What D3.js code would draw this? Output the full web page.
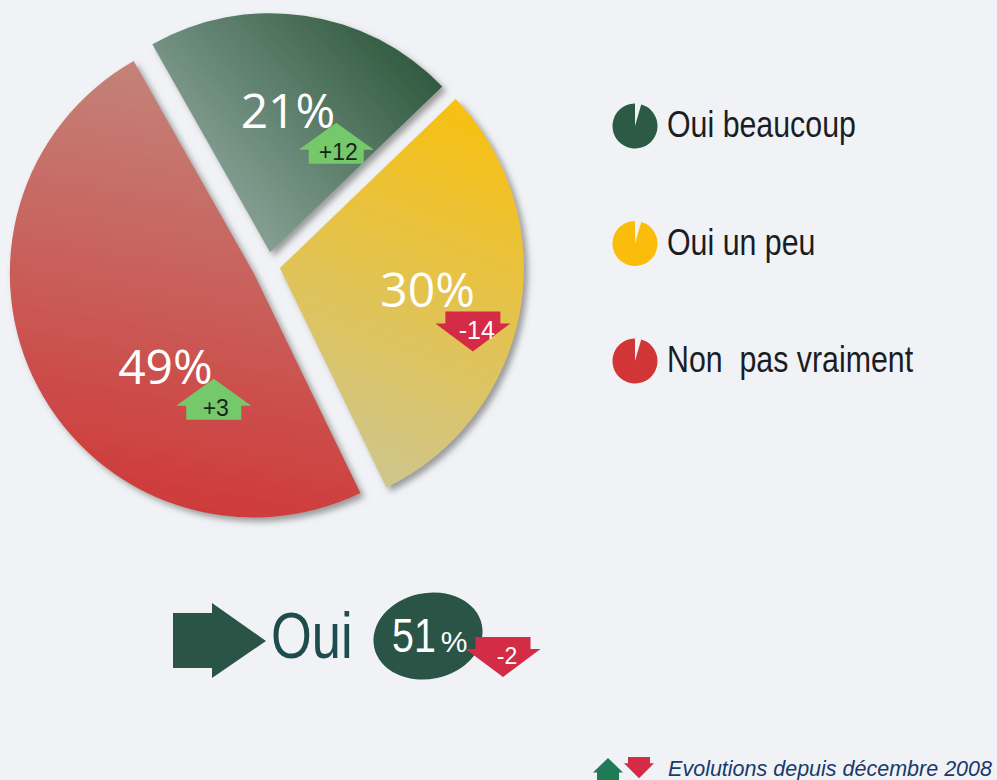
<!DOCTYPE html>
<html>
<head>
<meta charset="utf-8">
<script src="https://cdn.jsdelivr.net/npm/d3@7"></script>
<style>
  body { margin: 0; background: #f0f2f5; }
  svg { display: block; }
</style>
</head>
<body>
<div id="container"></div>
<script>
// Data
const categories = ["Oui beaucoup", "Oui un peu", "Non  pas vraiment"];
const values = [21, 30, 49];
const evolutions = [12, -14, 3];
const totalLabel = "Oui";
const totalValue = 51;
const totalEvolution = -2;
const footnote = "Evolutions depuis décembre 2008";

// Layout / style
const width = 997, height = 780;
const colors = ["#2c5a45", "#fbbd0b", "#d23535"];
const gradStops = [["#88a296", "#30593f"], ["#cec68f", "#f7c012"], ["#c2877d", "#cf3b3b"]];
const gradVec = [[[-20, -10], [170, -175]], [[40, 200], [190, -160]], [[-10, -220], [-90, 230]]];
const explode = [14, 12, 16];
const radii = [239, 244, 244];
const labelNudge = [[-3, 2], [5, -4], [40, 26]];
const upGreen = "#76c96b", downRed = "#d42b47";

// check for a narrow font, otherwise squeeze Liberation Sans
function hasFont(name) {
  const c = document.createElement('canvas').getContext('2d');
  c.font = '40px monospace';
  const a = c.measureText('Oui beaucoup').width;
  c.font = `40px "${name}", monospace`;
  return c.measureText('Oui beaucoup').width !== a;
}
const narrowOk = hasFont('Liberation Sans Narrow');
function narrowText(parent, x, y, txt, size) {
  const g = parent.append('g').attr('transform', `translate(${x},${y})`);
  const t = g.append('text').text(txt)
    .attr('font-size', size)
    .style('white-space', 'pre');
  if (narrowOk) t.attr('font-family', '"Liberation Sans Narrow"');
  else t.attr('font-family', '"Liberation Sans", Arial').attr('transform', 'scale(0.82,1)');
  return t;
}
const sign = v => (v > 0 ? '+' : '-') + Math.abs(v);

const svg = d3.select('#container').append('svg')
  .attr('width', width)
  .attr('height', height)
  .style('background', '#f0f2f5');

const defs = svg.append('defs');
const shadow = defs.append('filter').attr('id', 'shadow')
  .attr('x', '-10%').attr('y', '-10%').attr('width', '125%').attr('height', '125%');
shadow.append('feDropShadow')
  .attr('dx', 4).attr('dy', 4).attr('stdDeviation', 3)
  .attr('flood-color', '#6a6a6a').attr('flood-opacity', 0.65);

gradStops.forEach((s, i) => {
  const lg = defs.append('linearGradient').attr('id', 'grad' + i)
    .attr('gradientUnits', 'userSpaceOnUse')
    .attr('x1', gradVec[i][0][0]).attr('y1', gradVec[i][0][1])
    .attr('x2', gradVec[i][1][0]).attr('y2', gradVec[i][1][1]);
  lg.append('stop').attr('offset', 0).attr('stop-color', s[0]);
  lg.append('stop').attr('offset', 1).attr('stop-color', s[1]);
});

// arrow shapes (up: apex at 0; down: top edge at 0)
function arrowPath(up) {
  const hw = 37.5, rw = 27.5;
  if (up) return `M0,0L${hw},27L${rw},27L${rw},41L${-rw},41L${-rw},27L${-hw},27Z`;
  return `M${-rw},0L${rw},0L${rw},12L${hw},12L0,40L${-hw},12L${-rw},12Z`;
}
function drawArrow(parent, x, y, v, scale) {
  const up = v > 0;
  const g = parent.append('g').attr('transform', `translate(${x},${y})`);
  g.append('path').attr('d', arrowPath(up))
    .attr('fill', up ? upGreen : downRed)
    .attr('transform', scale ? `scale(${scale[0]},${scale[1]})` : null);
  return g;
}
function arrowLabel(g, v, size) {
  const up = v > 0;
  g.append('text')
    .attr('x', up ? 2 : 4)
    .attr('y', up ? 37 : 27)
    .attr('text-anchor', 'middle')
    .attr('font-family', '"Liberation Sans", Arial')
    .attr('font-size', size)
    .attr('fill', up ? '#16251b' : '#fff')
    .text(sign(v));
}

// Pie
const cx = 268, cy = 266;
const a0 = -29.5 * Math.PI / 180;
const pie = d3.pie().sort(null).startAngle(a0).endAngle(a0 + 2 * Math.PI);
const arc = d3.arc().innerRadius(0).outerRadius(d => radii[d.index]);
const labelArc = d3.arc().innerRadius(145).outerRadius(145);
const arcs = pie(values);

const slices = svg.selectAll('g.slice')
  .data(arcs)
  .enter().append('g')
  .attr('class', 'slice')
  .attr('transform', (d, i) => {
    const m = (d.startAngle + d.endAngle) / 2;
    return `translate(${cx + explode[i] * Math.sin(m)},${cy - explode[i] * Math.cos(m)})`;
  });

slices.append('path')
  .attr('d', arc)
  .attr('fill', (d, i) => `url(#grad${i})`)
  .attr('filter', 'url(#shadow)');

slices.each(function (d, i) {
  const g = d3.select(this);
  const c = labelArc.centroid(d);
  const lx = c[0] + labelNudge[i][0], ly = c[1] + labelNudge[i][1] + 17;
  const t = g.append('text')
    .attr('x', lx).attr('y', ly)
    .attr('text-anchor', 'middle')
    .attr('font-family', '"Open Sans", sans-serif')
    .attr('font-size', 48)
    .attr('fill', '#fff')
    .text(d.data + '%');
  const right = lx + t.node().getComputedTextLength() / 2;
  const v = evolutions[i];
  const ag = v > 0 ? drawArrow(g, right + 1, ly - 5, v) : drawArrow(g, right - 2, ly + 5, v);
  arrowLabel(ag, v, v > 0 ? 23 : 25);
});

// Legend
const legend = svg.append('g').attr('transform', 'translate(635,126)');
const icon = d3.arc().innerRadius(0).outerRadius(22.5).startAngle(0.28).endAngle(2 * Math.PI);
categories.forEach((c, i) => {
  const row = legend.append('g').attr('transform', `translate(0,${i * 117.5})`);
  row.append('path').attr('d', icon()).attr('fill', colors[i]);
  narrowText(row, 32, 11, c, 37).attr('fill', '#1a1e24');
});

// Total "Oui 51%"
const total = svg.append('g');
total.append('path')
  .attr('d', 'M173,613L212,613L212,603L266,641L212,678L212,668L173,668Z')
  .attr('fill', '#2a5445');
narrowText(total, 271, 658, totalLabel, 64).attr('fill', '#1e4b4c');
total.append('ellipse')
  .attr('cx', 428).attr('cy', 636).attr('rx', 55).attr('ry', 43)
  .attr('transform', 'rotate(-12,428,636)')
  .attr('fill', '#2a5445');
const vt = narrowText(total, 392, 652, String(totalValue), 48).attr('fill', '#fff');
const vw = vt.node().getBBox().width * (narrowOk ? 1 : 0.82);
total.append('text')
  .attr('x', 392 + vw + 5).attr('y', 652)
  .attr('font-family', '"Liberation Sans", Arial')
  .attr('font-size', 30)
  .attr('fill', '#fff')
  .text('%');
arrowLabel(drawArrow(total, 503, 637, totalEvolution), totalEvolution, 23);

// Footnote
const foot = svg.append('g');
foot.append('g').attr('transform', 'translate(608,758)')
  .append('path').attr('d', arrowPath(true)).attr('fill', '#1f7a55')
  .attr('transform', 'scale(0.4,0.54)');
foot.append('g').attr('transform', 'translate(639,757)')
  .append('path').attr('d', arrowPath(false)).attr('fill', downRed)
  .attr('transform', 'scale(0.4,0.53)');
foot.append('text')
  .attr('x', 992).attr('y', 776)
  .attr('text-anchor', 'end')
  .attr('font-family', '"Liberation Sans", Arial')
  .attr('font-style', 'italic')
  .attr('font-size', 21.5)
  .attr('fill', '#1a3a6a')
  .text(footnote);
</script>
</body>
</html>
